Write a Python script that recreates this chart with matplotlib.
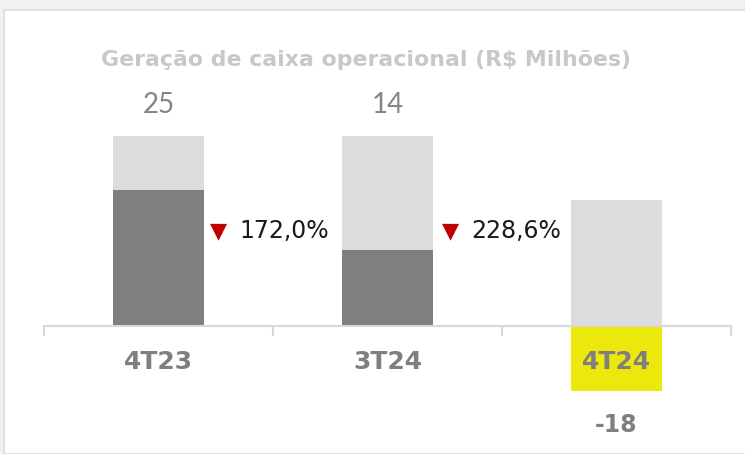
import matplotlib.pyplot as plt
from matplotlib.patches import Rectangle

categories = ['4T23', '3T24', '4T24']
values = [25, 14, -18]
background = [35, 35, 23.2]
highlight = [0, 0, -12]
changes = ['172,0%', '228,6%']

W, H = 745, 454
fig = plt.figure(figsize=(W / 100, H / 100), dpi=100)
fig.patch.set_facecolor('#f1f1f1')
# white card behind the chart
fig.patches.append(Rectangle((4 / W, 0), 1, 1 - 10 / H, transform=fig.transFigure,
                             facecolor='white', edgecolor='#dcdcdc', lw=1.2, zorder=-5))

ax = fig.add_axes([44 / W, 0, (731 - 44) / W, 1])
ax.set_facecolor('none')
ppu = 5.43
ax.set_xlim(-0.5, 2.5)
ax.set_ylim(-(H - 326) / ppu, 326 / ppu)

x = range(len(categories))
ax.bar(x, background, width=0.4, color='#dbdcde', zorder=1)
ax.bar(x, highlight, width=0.4, color='#ece80b', zorder=1)
pos = [v if v > 0 else 0 for v in values]
ax.bar(x, pos, width=0.4, color='#7f7f7f', zorder=2)

for s in ['top', 'right', 'left']:
    ax.spines[s].set_visible(False)
ax.spines['bottom'].set_position(('data', 0))
ax.spines['bottom'].set_color('#d9d9d9')
ax.spines['bottom'].set_linewidth(1.5)
ax.spines['bottom'].set_zorder(3)
ax.set_yticks([])
ax.set_xticks([-0.5, 0.5, 1.5, 2.5])
ax.set_xticklabels([])
ax.tick_params(axis='x', direction='out', length=7, width=1.5, color='#d9d9d9')

def py(p):
    return (326 - p) / ppu

ax.text(0.905, py(60), 'Geração de caixa operacional (R$ Milhões)', ha='center', va='center',
        fontsize=15.8, fontweight='bold', color='#c8c8c8')

for i, (c, v) in enumerate(zip(categories, values)):
    ax.text(i, py(362), c, ha='center', va='center', fontsize=18, fontweight='bold',
            color='#7f7f7f', zorder=4)
    if v > 0:
        ax.text(i, py(105), str(v), ha='center', va='center', fontsize=20,
                fontweight='normal', color='#858585', family=['Lato', 'DejaVu Sans'])
    else:
        ax.text(i, py(425), str(v), ha='center', va='center', fontsize=17,
                fontweight='bold', color='#7f7f7f')

tri_x = [0.264, 1.275]
txt_x = [0.352, 1.365]
for tx, lx, ch in zip(tri_x, txt_x, changes):
    ax.text(tx, py(231), '▼', ha='center', va='center', fontsize=16, color='#c00000')
    ax.text(lx, py(231), ch, ha='left', va='center', fontsize=17, color='#1a1a1a')

fig.savefig('out.png', dpi=100, facecolor=fig.get_facecolor())
